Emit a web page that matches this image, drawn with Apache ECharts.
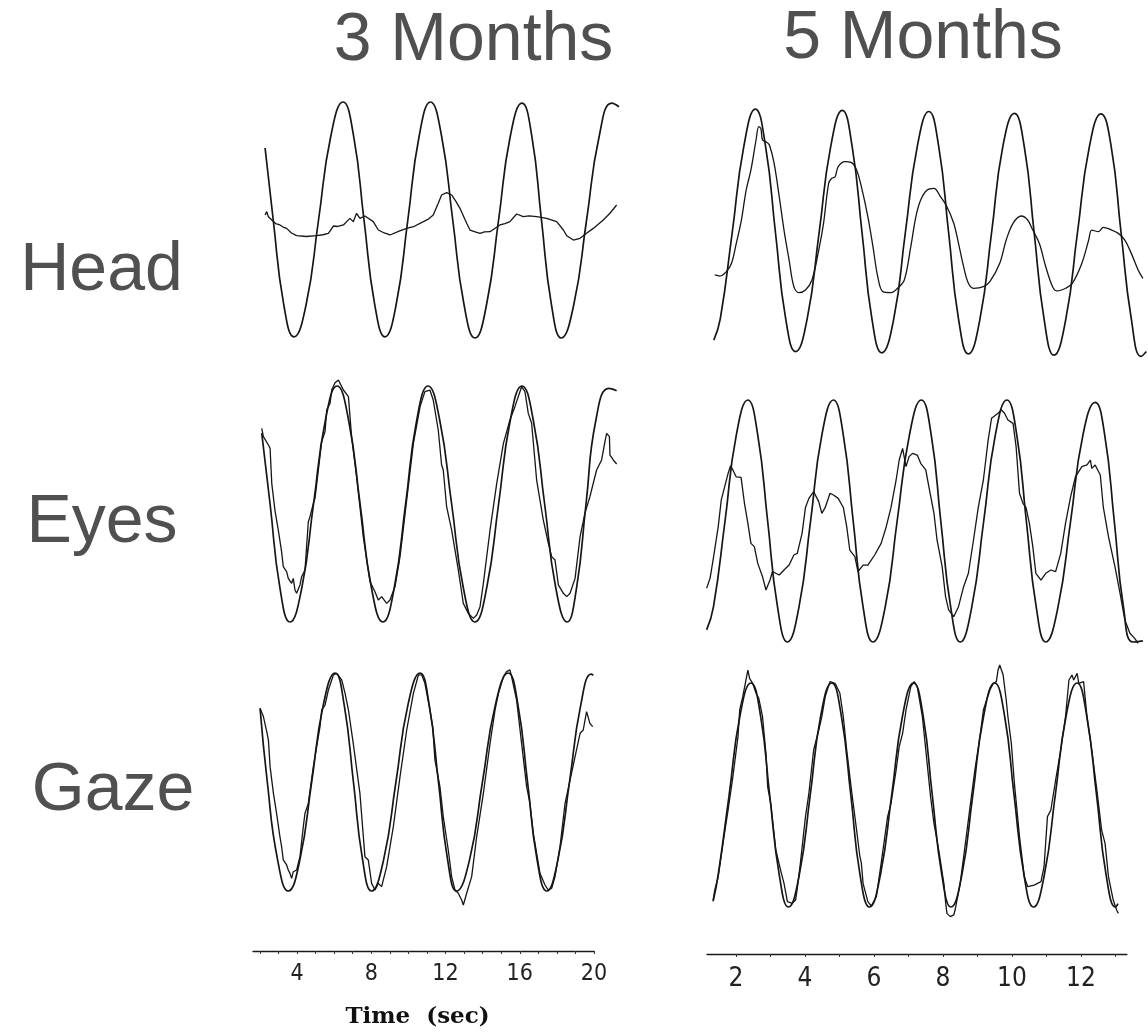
<!DOCTYPE html>
<html><head><meta charset="utf-8">
<script src="https://cdn.jsdelivr.net/npm/echarts@6/dist/echarts.min.js"></script>
<style>html,body{margin:0;padding:0;background:#fff}#c{width:1148px;height:1032px}</style>
</head><body><div id="c"></div><script>
// ---- data (time in s, position in arbitrary units; stimulus amplitude ~ ±10) ----
const columnTitles = ['3 Months', '5 Months'];
const rowLabels = ['Head', 'Eyes', 'Gaze'];
const leftTickLabels = [4, 8, 12, 16, 20];
const rightTickLabels = [2, 4, 6, 8, 10, 12];
const leftTickMarks = [2,3,4,5,6,7,8,9,10,11,12,13,14,15,16,17,18,19,20];
const rightTickMarks = [2,3,4,5,6,7,8,9,10,11,12,13];
const axisTitle = 'Time  (sec)';

const head3Target = [[2.28,6.1],[2.72,0],[3.28,-7.1],[3.84,-9.9],[4.50,-7.1],[5.16,0],[5.82,7.1],[6.48,10],[7.05,7.1],[7.61,0],[8.18,-7.1],[8.74,-9.9],[9.35,-7.1],[9.97,0],[10.58,7.1],[11.19,10],[11.79,7.1],[12.39,0],[12.99,-7.1],[13.59,-10],[14.22,-7.1],[14.86,0],[15.49,7.1],[16.12,9.9],[16.65,7.1],[17.17,0],[17.70,-7.1],[18.24,-10],[18.92,-7.1],[19.60,0],[20.28,7.1],[20.96,9.9],[21.35,9.6]];
const head3Response = [[2.28,0.42],[2.37,0.71],[2.46,0.28],[2.64,0.0],[2.85,-0.3],[3.08,-0.42],[3.25,-0.6],[3.44,-0.71],[3.7,-1.1],[3.98,-1.33],[4.5,-1.4],[5.06,-1.33],[5.4,-1.25],[5.69,-1.13],[5.96,-0.51],[6.20,-0.55],[6.50,-0.42],[6.85,0.14],[7.03,-0.14],[7.21,0.57],[7.39,0.14],[7.66,0.34],[8.11,-0.14],[8.38,-0.85],[8.7,-1.1],[9.01,-1.27],[9.5,-0.95],[9.91,-0.71],[10.27,-0.57],[10.81,-0.14],[11.1,0.1],[11.34,0.42],[11.61,1.41],[11.79,2.12],[12.06,2.32],[12.33,2.12],[12.55,1.6],[12.78,0.99],[13.14,-0.28],[13.32,-0.85],[13.6,-1.0],[13.86,-1.13],[14.1,-1.0],[14.40,-0.99],[14.93,-0.42],[15.2,-0.3],[15.47,-0.14],[15.83,0.51],[16.19,0.28],[16.5,0.35],[16.91,0.28],[17.45,0.14],[17.99,-0.14],[18.35,-0.85],[18.53,-1.33],[18.89,-1.70],[19.25,-1.55],[19.60,-1.13],[19.96,-0.71],[20.50,0.0],[20.86,0.57],[21.22,1.27]];

const head5Target = [[1.36,-8.85],[1.55,-7.1],[1.90,0],[2.24,7.1],[2.58,10.2],[2.88,7.1],[3.17,0],[3.47,-7.1],[3.76,-9.8],[4.10,-7.1],[4.45,0],[4.79,7.1],[5.13,10.1],[5.42,7.1],[5.71,0],[6.00,-7.1],[6.29,-9.9],[6.64,-7.1],[6.98,0],[7.33,7.1],[7.67,10],[7.96,7.1],[8.25,0],[8.54,-7.1],[8.83,-10],[9.17,-7.1],[9.51,0],[9.84,7.1],[10.18,9.85],[10.47,7.1],[10.76,0],[11.05,-7.1],[11.34,-10.1],[11.69,-7.1],[12.03,0],[12.38,7.1],[12.72,9.8],[13.02,7.1],[13.31,0],[13.61,-7.1],[13.90,-10.2],[14.05,-9.8]];
const head5Response = [[1.39,-3.48],[1.54,-3.57],[1.73,-3.21],[1.88,-2.52],[2.02,-0.87],[2.17,1.05],[2.31,3.52],[2.45,5.18],[2.60,7.65],[2.68,8.75],[2.74,8.61],[2.79,7.65],[2.89,7.51],[2.99,7.24],[3.13,5.72],[3.28,2.98],[3.42,0.22],[3.57,-2.25],[3.71,-4.45],[3.86,-4.94],[4.05,-4.72],[4.24,-3.90],[4.44,-1.42],[4.58,0.78],[4.73,4.07],[4.82,4.49],[4.92,4.62],[5.01,5.45],[5.21,5.86],[5.40,5.78],[5.55,5.18],[5.69,3.80],[5.88,1.33],[6.03,-1.15],[6.17,-3.62],[6.32,-4.86],[6.56,-4.94],[6.75,-4.58],[6.95,-3.90],[7.14,-1.15],[7.29,1.33],[7.43,2.70],[7.62,3.52],[7.82,3.66],[8.01,2.98],[8.20,2.15],[8.40,0.78],[8.54,-0.87],[8.69,-2.80],[8.83,-4.17],[8.98,-4.58],[9.27,-4.45],[9.46,-4.04],[9.75,-2.52],[9.94,-0.60],[10.14,0.78],[10.38,1.38],[10.57,1.05],[10.72,0.22],[10.91,-0.87],[11.10,-2.80],[11.30,-4.45],[11.44,-4.80],[11.68,-4.58],[11.88,-4.17],[12.16,-2.52],[12.36,-0.60],[12.45,0.22],[12.65,0.09],[12.79,0.45],[12.99,0.28],[13.23,-0.05],[13.42,-0.60],[13.61,-1.70],[13.81,-3.07],[13.95,-3.76]];

const eyes3Target = [[2.10,6.0],[2.55,0],[3.08,-7.1],[3.62,-10],[4.26,-7.1],[4.89,0],[5.53,7.1],[6.16,10],[6.78,7.1],[7.40,0],[8.01,-7.1],[8.63,-10],[9.24,-7.1],[9.85,0],[10.45,7.1],[11.06,10],[11.69,7.1],[12.33,0],[12.96,-7.1],[13.59,-10],[14.22,-7.1],[14.86,0],[15.49,7.1],[16.12,10],[16.73,7.1],[17.34,0],[17.94,-7.1],[18.55,-10],[19.06,-7.1],[19.57,0],[20.10,7.1],[20.80,9.8],[21.22,9.6]];
const eyes3Response = [[2.10,6.41],[2.19,5.71],[2.46,5.00],[2.55,4.72],[2.64,1.75],[2.73,1.61],[2.81,-0.51],[2.99,-2.20],[3.17,-4.04],[3.26,-5.31],[3.44,-5.73],[3.53,-6.30],[3.62,-6.16],[3.71,-6.72],[3.80,-6.30],[3.89,-7.29],[3.98,-7.57],[4.16,-6.86],[4.25,-6.16],[4.43,-5.59],[4.61,-1.50],[4.70,-1.07],[4.88,0.06],[4.97,0.48],[5.33,5.28],[5.51,6.13],[5.60,7.97],[5.78,8.53],[5.87,9.66],[6.05,10.28],[6.23,10.51],[6.50,9.66],[6.77,9.10],[6.94,5.71],[7.21,2.32],[7.57,-2.77],[7.93,-6.58],[8.20,-7.43],[8.38,-8.13],[8.56,-7.85],[8.83,-8.42],[9.01,-8.13],[9.28,-7.00],[9.55,-4.46],[9.91,0.34],[10.27,5.14],[10.63,8.25],[10.89,9.52],[11.16,9.66],[11.34,8.81],[11.61,6.27],[11.79,3.31],[11.88,2.88],[12.06,-0.23],[12.33,-2.20],[12.69,-5.59],[12.96,-8.42],[13.23,-9.27],[13.50,-9.69],[13.68,-9.41],[13.86,-8.70],[14.04,-6.72],[14.40,-2.20],[14.76,1.75],[15.12,5.14],[15.47,7.12],[15.74,8.25],[16.10,9.94],[16.28,9.52],[16.46,7.68],[16.64,6.84],[16.91,2.03],[17.27,-1.36],[17.54,-3.33],[17.72,-4.46],[17.90,-4.75],[18.08,-6.86],[18.35,-7.57],[18.53,-7.85],[18.71,-7.57],[18.98,-6.30],[19.25,-2.77],[19.51,-0.79],[19.78,0.62],[20.14,2.88],[20.41,3.73],[20.59,5.28],[20.68,5.99],[20.83,5.71],[20.86,4.15],[21.04,3.73],[21.22,3.39]];

const eyes5Target = [[1.15,-9.0],[1.35,-7.1],[1.69,0],[2.02,7.1],[2.36,10],[2.65,7.1],[2.94,0],[3.23,-7.1],[3.52,-10],[3.86,-7.1],[4.20,0],[4.53,7.1],[4.87,10],[5.16,7.1],[5.45,0],[5.74,-7.1],[6.03,-10],[6.39,-7.1],[6.74,0],[7.10,7.1],[7.45,10],[7.74,7.1],[8.02,0],[8.31,-7.1],[8.59,-10],[8.93,-7.1],[9.28,0],[9.62,7.1],[9.96,10],[10.25,7.1],[10.53,0],[10.82,-7.1],[11.10,-10],[11.46,-7.1],[11.83,0],[12.19,7.1],[12.55,9.8],[12.83,7.1],[13.11,0],[13.38,-7.1],[13.66,-10],[13.95,-9.9]];
const eyes5Response = [[1.15,-5.56],[1.25,-4.74],[1.34,-3.22],[1.49,-0.47],[1.58,1.74],[1.68,2.84],[1.78,3.94],[1.85,4.55],[1.92,4.22],[2.02,3.64],[2.16,3.61],[2.26,1.46],[2.36,-0.19],[2.45,-1.85],[2.55,-2.12],[2.65,-3.50],[2.79,-4.60],[2.89,-5.70],[3.01,-4.88],[3.08,-4.19],[3.18,-4.32],[3.28,-4.46],[3.42,-4.05],[3.57,-3.64],[3.71,-2.81],[3.81,-2.67],[3.95,-1.02],[4.05,1.12],[4.15,1.87],[4.29,2.42],[4.44,1.60],[4.53,0.63],[4.63,1.12],[4.77,2.29],[4.87,2.15],[5.01,1.87],[5.16,1.12],[5.26,-0.47],[5.35,-2.40],[5.50,-2.95],[5.59,-4.19],[5.74,-3.64],[5.88,-3.64],[6.08,-2.81],[6.27,-1.85],[6.42,-0.47],[6.56,1.12],[6.71,3.39],[6.80,5.04],[6.90,6.00],[7.00,4.49],[7.09,5.32],[7.19,5.59],[7.33,5.45],[7.43,4.77],[7.58,4.22],[7.67,2.84],[7.82,0.63],[7.91,-1.57],[8.06,-3.77],[8.16,-6.25],[8.25,-7.35],[8.40,-7.91],[8.54,-7.08],[8.69,-5.43],[8.83,-4.32],[8.98,-1.57],[9.12,1.12],[9.27,3.39],[9.41,6.69],[9.51,8.49],[9.70,8.90],[9.80,9.17],[9.89,8.90],[9.99,8.35],[10.14,8.07],[10.23,6.14],[10.33,2.29],[10.43,1.46],[10.52,1.12],[10.62,-0.19],[10.72,-2.12],[10.81,-4.32],[10.96,-4.88],[11.10,-4.32],[11.25,-4.05],[11.39,-4.19],[11.54,-2.67],[11.68,-0.19],[11.83,2.01],[11.97,3.64],[12.16,4.49],[12.31,4.63],[12.41,5.04],[12.45,4.35],[12.55,4.63],[12.70,3.80],[12.79,1.12],[12.94,-1.30],[13.13,-3.77],[13.28,-5.98],[13.42,-8.18],[13.57,-9.28],[13.71,-9.70],[13.81,-10.11]];

const gaze3Target = [[2.01,6.76],[2.40,0],[2.95,-7.1],[3.53,-10],[4.16,-7.1],[4.79,0],[5.42,7.1],[6.05,10],[6.54,7.1],[7.04,0],[7.53,-7.1],[8.02,-10],[8.67,-7.1],[9.33,0],[9.98,7.1],[10.63,10],[11.12,7.1],[11.62,0],[12.11,-7.1],[12.60,-10],[13.30,-7.1],[13.99,0],[14.69,7.1],[15.38,10],[15.90,7.1],[16.42,0],[16.93,-7.1],[17.45,-10],[18.06,-7.1],[18.68,0],[19.29,7.1],[19.85,9.9],[19.96,9.8]];
const gaze3Response = [[2.01,6.76],[2.19,6.00],[2.37,4.62],[2.46,3.85],[2.55,1.41],[2.64,1.25],[2.73,-1.04],[2.90,-2.87],[3.08,-5.01],[3.17,-5.93],[3.26,-7.15],[3.44,-7.61],[3.53,-8.07],[3.62,-8.38],[3.71,-8.84],[3.80,-8.23],[3.89,-8.38],[3.98,-8.07],[4.16,-6.85],[4.34,-4.10],[4.43,-2.87],[4.61,-1.96],[4.88,1.41],[5.24,5.08],[5.33,6.61],[5.51,7.06],[5.69,8.44],[5.96,9.82],[6.14,9.97],[6.41,9.36],[6.59,8.13],[6.77,6.61],[7.03,3.55],[7.39,-1.04],[7.66,-6.85],[7.84,-7.15],[8.02,-9.30],[8.20,-9.91],[8.38,-9.30],[8.56,-9.60],[8.83,-7.77],[9.19,-4.10],[9.55,0.49],[9.91,4.77],[10.27,8.13],[10.54,9.82],[10.72,9.82],[10.89,9.05],[11.16,6.61],[11.31,5.08],[11.43,2.02],[11.70,-0.43],[11.88,-3.18],[12.15,-6.24],[12.33,-8.68],[12.51,-9.91],[12.69,-10.21],[12.87,-10.82],[12.96,-11.28],[13.14,-10.21],[13.41,-8.68],[13.68,-5.01],[14.04,-1.04],[14.40,3.55],[14.67,6.61],[14.85,8.13],[15.12,9.66],[15.29,10.12],[15.47,10.28],[15.56,9.66],[15.83,7.52],[16.10,3.55],[16.37,-0.43],[16.55,-1.96],[16.73,-4.71],[16.91,-6.54],[17.09,-8.38],[17.36,-9.45],[17.54,-9.91],[17.72,-9.75],[17.90,-8.68],[18.17,-5.93],[18.44,-1.96],[18.71,0.18],[18.98,2.32],[19.25,4.47],[19.42,4.77],[19.60,6.45],[19.69,6.30],[19.78,5.38],[19.93,5.08]];

const gaze5Target = [[1.34,-9.5],[1.49,-7.1],[1.81,0],[2.13,7.1],[2.45,10],[2.73,7.1],[3.00,0],[3.28,-7.1],[3.55,-10],[3.87,-7.1],[4.19,0],[4.50,7.1],[4.82,10],[5.10,7.1],[5.38,0],[5.65,-7.1],[5.93,-10],[6.25,-7.1],[6.58,0],[6.90,7.1],[7.22,10],[7.50,7.1],[7.77,0],[8.05,-7.1],[8.32,-10],[8.64,-7.1],[8.96,0],[9.28,7.1],[9.60,10],[9.89,7.1],[10.17,0],[10.46,-7.1],[10.74,-10],[11.06,-7.1],[11.38,0],[11.70,7.1],[12.02,10],[12.30,7.1],[12.59,0],[12.87,-7.1],[13.15,-10],[13.22,-9.7]];
const gaze5Response = [[1.34,-9.38],[1.39,-8.48],[1.49,-7.29],[1.63,-4.32],[1.78,-1.34],[1.92,1.64],[2.07,5.21],[2.12,7.59],[2.21,8.78],[2.36,11.16],[2.41,10.42],[2.50,9.97],[2.60,9.08],[2.68,8.63],[2.79,6.99],[2.89,3.72],[2.94,0.74],[3.03,-0.74],[3.18,-4.91],[3.32,-6.70],[3.42,-7.89],[3.52,-9.52],[3.66,-9.67],[3.76,-9.38],[3.81,-8.33],[3.90,-6.10],[4.05,-1.93],[4.15,0.15],[4.29,4.02],[4.44,5.80],[4.53,6.99],[4.63,8.78],[4.77,10.12],[4.92,9.97],[5.06,9.08],[5.16,6.99],[5.26,4.02],[5.40,0.45],[5.55,-3.13],[5.64,-5.36],[5.69,-6.10],[5.74,-7.89],[5.88,-9.52],[5.98,-9.91],[6.13,-9.08],[6.27,-6.10],[6.46,-1.93],[6.56,-0.74],[6.71,2.23],[6.80,4.32],[6.90,5.51],[7.00,7.59],[7.14,9.67],[7.24,10.12],[7.33,9.67],[7.48,6.99],[7.62,2.83],[7.72,-0.15],[7.82,-2.53],[7.96,-4.91],[8.11,-7.89],[8.16,-9.52],[8.20,-10.57],[8.30,-10.86],[8.40,-10.71],[8.44,-10.27],[8.59,-7.89],[8.73,-4.61],[8.88,-1.04],[9.02,2.23],[9.17,5.21],[9.27,7.59],[9.46,9.37],[9.56,9.97],[9.65,10.12],[9.70,11.16],[9.75,11.61],[9.85,10.71],[9.94,8.48],[9.99,6.99],[10.09,4.61],[10.18,1.04],[10.33,-3.72],[10.47,-7.29],[10.57,-8.19],[10.76,-8.04],[10.86,-7.89],[10.96,-7.74],[11.05,-6.40],[11.15,-1.93],[11.25,-1.34],[11.39,1.34],[11.54,4.02],[11.68,6.99],[11.78,10.27],[11.87,10.71],[11.92,10.27],[12.02,10.86],[12.07,9.97],[12.21,10.12],[12.31,6.99],[12.45,4.02],[12.60,0.45],[12.74,-3.13],[12.84,-4.32],[12.94,-7.29],[13.08,-9.38],[13.18,-10.27],[13.23,-10.57]];

// ---- layout (pixels) ----
const COLS = [
  {x0: 222.75, k: 18.5625, tMin: 1.9, tMax: 21.6, axMin: 1.63, axMax: 20, axisY: 951},
  {x0: 667, k: 34.5, tMin: 1.05, tMax: 14.1, axMin: 1.16, axMax: 13.33, axisY: 954}
];
const Y_EXT = 13;
const panels = [
  {col: 0, mid: 220, amp: 118, target: head3Target, resp: head3Response, smooth: false},
  {col: 1, mid: 232.75, amp: 121.25, target: head5Target, resp: head5Response, smooth: 0.35},
  {col: 0, mid: 504, amp: 118, target: eyes3Target, resp: eyes3Response, smooth: false},
  {col: 1, mid: 521, amp: 121, target: eyes5Target, resp: eyes5Response, smooth: false},
  {col: 0, mid: 782, amp: 109, target: gaze3Target, resp: gaze3Response, smooth: false},
  {col: 1, mid: 795, amp: 112, target: gaze5Target, resp: gaze5Response, smooth: false}
];
const INK = '#161616';
const grid = [], xAxis = [], yAxis = [], series = [];
panels.forEach((p, i) => {
  const c = COLS[p.col];
  grid.push({left: c.x0 + c.k * c.tMin, width: c.k * (c.tMax - c.tMin),
             top: p.mid - p.amp * Y_EXT / 10, height: 2 * p.amp * Y_EXT / 10});
  xAxis.push({type: 'value', gridIndex: i, min: c.tMin, max: c.tMax, show: false});
  yAxis.push({type: 'value', gridIndex: i, min: -Y_EXT, max: Y_EXT, show: false});
  series.push({type: 'line', xAxisIndex: i, yAxisIndex: i, data: p.target, smooth: 0.5,
               symbol: 'none', clip: false, lineStyle: {color: INK, width: 1.7}, silent: true});
  series.push({type: 'line', xAxisIndex: i, yAxisIndex: i, data: p.resp, smooth: p.smooth,
               symbol: 'none', clip: false, lineStyle: {color: INK, width: 1.3}, silent: true});
});
const tickLabelSets = [leftTickLabels, rightTickLabels];
const tickMarkSets = [leftTickMarks, rightTickMarks];
const tickFont = [23, 26];
COLS.forEach((c, j) => {
  const gi = grid.length;
  grid.push({left: c.x0 + c.k * c.axMin, width: c.k * (c.axMax - c.axMin), top: c.axisY - 1, height: 1});
  xAxis.push({type: 'value', gridIndex: gi, min: c.axMin, max: c.axMax, position: 'bottom',
    splitLine: {show: false},
    axisLine: {show: true, lineStyle: {color: '#1a1a1a', width: 1.4}},
    axisTick: {show: true, customValues: tickMarkSets[j], length: 3, lineStyle: {color: '#333', width: 1}},
    axisLabel: {show: true, customValues: tickLabelSets[j], margin: 12, color: '#222',
      fontSize: tickFont[j], fontFamily: "'Liberation Sans Narrow', 'DejaVu Sans Condensed', 'Liberation Sans', sans-serif"}});
  yAxis.push({type: 'value', gridIndex: gi, show: false});
});

const labelStyle = (t) => ({text: t, fill: '#505050', font: '68px "Liberation Sans", Arial, sans-serif',
  align: 'center', verticalAlign: 'middle'});
const graphic = [
  {type: 'text', x: 473.5, y: 41, style: labelStyle(columnTitles[0])},
  {type: 'text', x: 923, y: 39, style: labelStyle(columnTitles[1])},
  {type: 'text', x: 101.5, y: 271, style: labelStyle(rowLabels[0])},
  {type: 'text', x: 102, y: 523, style: labelStyle(rowLabels[1])},
  {type: 'text', x: 113, y: 791, style: labelStyle(rowLabels[2])},
  {type: 'text', x: 417.5, y: 1017, style: {text: axisTitle, fill: '#111',
    font: 'bold 23px "DejaVu Serif", "Liberation Serif", serif', align: 'center', verticalAlign: 'middle'}}
];

const chart = echarts.init(document.getElementById('c'), null, {renderer: 'canvas'});
chart.setOption({backgroundColor: '#ffffff', animation: false, grid, xAxis, yAxis, series, graphic});
</script></body></html>
